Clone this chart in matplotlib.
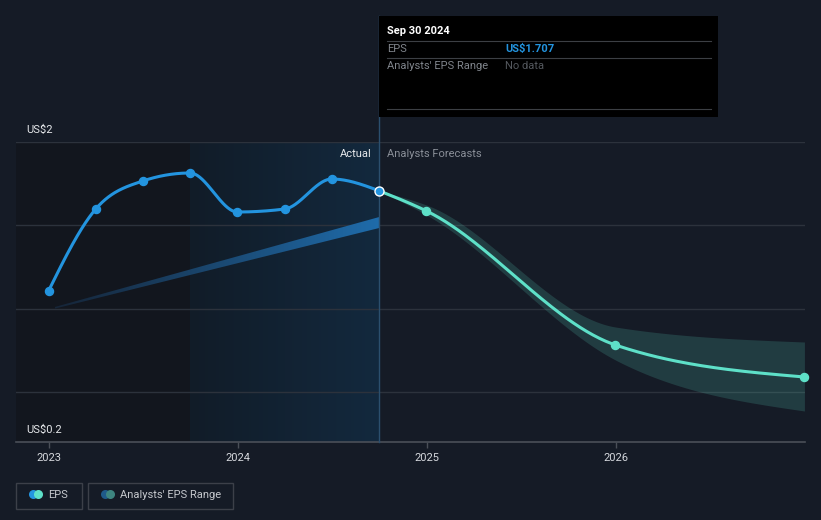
import matplotlib
matplotlib.use("Agg")
import matplotlib.pyplot as plt
import numpy as np
from matplotlib.patches import Rectangle, FancyBboxPatch
from matplotlib.lines import Line2D

plt.rcParams['font.family'] = ['Roboto', 'DejaVu Sans']

# data (decimal years, US$)
hist_x = [2022.997, 2023.247, 2023.496, 2023.746, 2023.997, 2024.247, 2024.496, 2024.747]
hist_eps = [1.106, 1.598, 1.766, 1.814, 1.580, 1.598, 1.778, 1.707]

fc_x = [2024.747, 2024.997, 2025.997, 2026.997]
fc_eps = [1.707, 1.586, 0.782, 0.590]
fc_high = [1.707, 1.622, 0.890, 0.800]
fc_low = [1.707, 1.562, 0.692, 0.386]

past_x = [2023.03, 2024.747]
past_high = [1.01, 1.55]
past_low = [1.00, 1.484]

year_ticks = [2023, 2024, 2025, 2026]
year_labels = ["2023", "2024", "2025", "2026"]

BG = "#151b26"
BLUE = "#2394df"
TEAL = "#5ee0c8"


def monotone(x, y, n=60):
    x = np.asarray(x, float)
    y = np.asarray(y, float)
    h = np.diff(x)
    d = np.diff(y) / h
    m = np.zeros(len(x))
    for i in range(1, len(x) - 1):
        if d[i - 1] * d[i] <= 0:
            m[i] = 0
        else:
            s = (d[i - 1] * h[i] + d[i] * h[i - 1]) / (h[i - 1] + h[i])
            m[i] = (np.sign(d[i - 1]) + np.sign(d[i])) * min(abs(d[i - 1]), abs(d[i]), 0.5 * abs(s))
    m[0] = (3 * d[0] - m[1]) / 2 if len(x) > 2 else d[0]
    m[-1] = (3 * d[-1] - m[-2]) / 2 if len(x) > 2 else d[-1]
    xs, ys = [], []
    for i in range(len(x) - 1):
        t = np.linspace(0, 1, n)
        h00 = 2 * t**3 - 3 * t**2 + 1
        h10 = t**3 - 2 * t**2 + t
        h01 = -2 * t**3 + 3 * t**2
        h11 = t**3 - t**2
        xs.append(x[i] + t * h[i])
        ys.append(h00 * y[i] + h10 * h[i] * m[i] + h01 * y[i + 1] + h11 * h[i] * m[i + 1])
    return np.concatenate(xs), np.concatenate(ys)


W, H = 821, 520
fig = plt.figure(figsize=(W / 100, H / 100), dpi=100)
fig.patch.set_facecolor(BG)
ax = fig.add_axes([16 / W, 1 - 442 / H, 789 / W, 300 / H])
ax.set_facecolor(BG)
x0, x1 = 2022.825, 2027.0
ax.set_xlim(x0, x1)
ax.set_ylim(0.2, 2.0)

# background zones
ax.axvspan(x0, 2023.746, color="#12161e", zorder=0, lw=0)
grad = np.linspace(0, 1, 256)[None, :]
c0 = np.array([0x11, 0x1c, 0x28]) / 255
c1 = np.array([0x13, 0x29, 0x3e]) / 255
img = c0[None, None, :] + (c1 - c0)[None, None, :] * grad[:, :, None]
ax.imshow(img, extent=[2023.746, 2024.747, 0.2, 2.0], aspect="auto", zorder=0.5)

for yv in [0.5, 1.0, 1.5, 2.0]:
    ax.axhline(yv, color="#2c323c", lw=1, zorder=1)

for s in ax.spines.values():
    s.set_visible(False)
ax.axhline(0.2, color="#4a4f58", lw=1.2, zorder=2, clip_on=False)

# past range wedge with gradient
poly = ax.fill_between(past_x, past_low, past_high, color="none", lw=0)
wg = np.linspace(0, 1, 256)[None, :]
cw0 = np.array([0x16, 0x25, 0x38]) / 255
cw1 = np.array([0x1f, 0x6c, 0xab]) / 255
wimg = cw0[None, None, :] + (cw1 - cw0)[None, None, :] * wg[:, :, None]
im2 = ax.imshow(wimg, extent=[past_x[0], past_x[1], 0.95, 1.6], aspect="auto", zorder=2)
im2.set_clip_path(poly.get_paths()[0], transform=ax.transData)

# forecast band
bx, bh = monotone(fc_x, fc_high)
_, bl = monotone(fc_x, fc_low)
ax.fill_between(bx, bl, bh, color=TEAL, alpha=0.17, lw=0, zorder=2)

# lines
hx, hy = monotone(hist_x, hist_eps)
ax.plot(hx, hy, color=BLUE, lw=2.2, zorder=3, solid_capstyle="round")
ax.plot(hist_x[:-1], hist_eps[:-1], "o", color=BLUE, ms=5.8, zorder=4)
fx, fy = monotone(fc_x, fc_eps)
ax.plot(fx, fy, color=TEAL, lw=2.2, zorder=3, solid_capstyle="round", clip_on=False)
ax.plot(fc_x[1:], fc_eps[1:], "o", color=TEAL, ms=5.8, zorder=4, clip_on=False)
ax.plot(hist_x[-1], hist_eps[-1], "o", color=BLUE, mec="white", mew=1, ms=6.5, zorder=5)

# vertical divider
ax.plot([2024.747, 2024.747], [0.2, 2.0 + (142 - 16) / 166.7], color="#2b4f6e", lw=1,
        zorder=3, clip_on=False)

# ticks
ax.set_xticks(year_ticks)
ax.set_xticklabels(year_labels)
ax.tick_params(axis="x", colors="#4a4f58", length=4, width=1, labelcolor="#d5d8dd",
               labelsize=8, pad=4)
ax.set_yticks([])

ax.text(x0 + 10 / 789 * (x1 - x0), 2.0 + 12 / 166.7, "US$2",
        color="#e6e8eb", fontsize=8, va="center", ha="left")
ax.text(x0 + 10 / 789 * (x1 - x0), 0.2 + 12 / 166.7, "US$0.2",
        color="#e6e8eb", fontsize=8, va="center", ha="left")
ax.text(2024.747 - 8 / 189, 2.0 - 12 / 166.7, "Actual", color="#e6e8eb", fontsize=8,
        ha="right", va="center")
ax.text(2024.747 + 8 / 189, 2.0 - 12 / 166.7, "Analysts Forecasts", color="#8a8f98",
        fontsize=8, ha="left", va="center")


# tooltip box
def fx_(px):
    return px / W


def fy_(py):
    return 1 - py / H


fig.add_artist(Rectangle((fx_(379), fy_(117)), 339 / W, 101 / H, transform=fig.transFigure,
                         facecolor="black", edgecolor="none", zorder=10))
for ly in [41, 58, 109]:
    fig.add_artist(Line2D([fx_(387), fx_(711)], [fy_(ly), fy_(ly)], color="#3c3f44", lw=0.8,
                          zorder=11))
fig.text(fx_(387), fy_(31), "Sep 30 2024", color="white", fontsize=8, fontweight="bold",
         va="center", zorder=12)
fig.text(fx_(387), fy_(49), "EPS", color="#80858c", fontsize=8, va="center", zorder=12)
fig.text(fx_(505), fy_(49), "US$1.707", color=BLUE, fontsize=8, fontweight="bold",
         va="center", zorder=12)
fig.text(fx_(387), fy_(66), "Analysts' EPS Range", color="#80858c", fontsize=8,
         va="center", zorder=12)
fig.text(fx_(505), fy_(66), "No data", color="#54585e", fontsize=8, va="center", zorder=12)


# legend
def legend_box(xa, xb, col1, col2, label):
    fig.add_artist(FancyBboxPatch((fx_(xa), fy_(509)), (xb - xa) / W, 26 / H,
                                  boxstyle="square,pad=0", transform=fig.transFigure,
                                  facecolor="none", edgecolor="#3c4049", lw=1))
    fig.add_artist(Line2D([fx_(xa + 17)], [fy_(494)], marker="o", ms=6.5, color=col1,
                          mec="none", lw=0))
    fig.add_artist(Line2D([fx_(xa + 22)], [fy_(494)], marker="o", ms=6.5, color=col2,
                          mec="none", lw=0))
    fig.text(fx_(xa + 32), fy_(495), label, color="#c5c8cd", fontsize=8, va="center")


legend_box(16, 82, BLUE, TEAL, "EPS")
legend_box(88, 233, "#1f5a8a", "#3d8580", "Analysts' EPS Range")

fig.savefig("out.png", dpi=100, facecolor=BG)
